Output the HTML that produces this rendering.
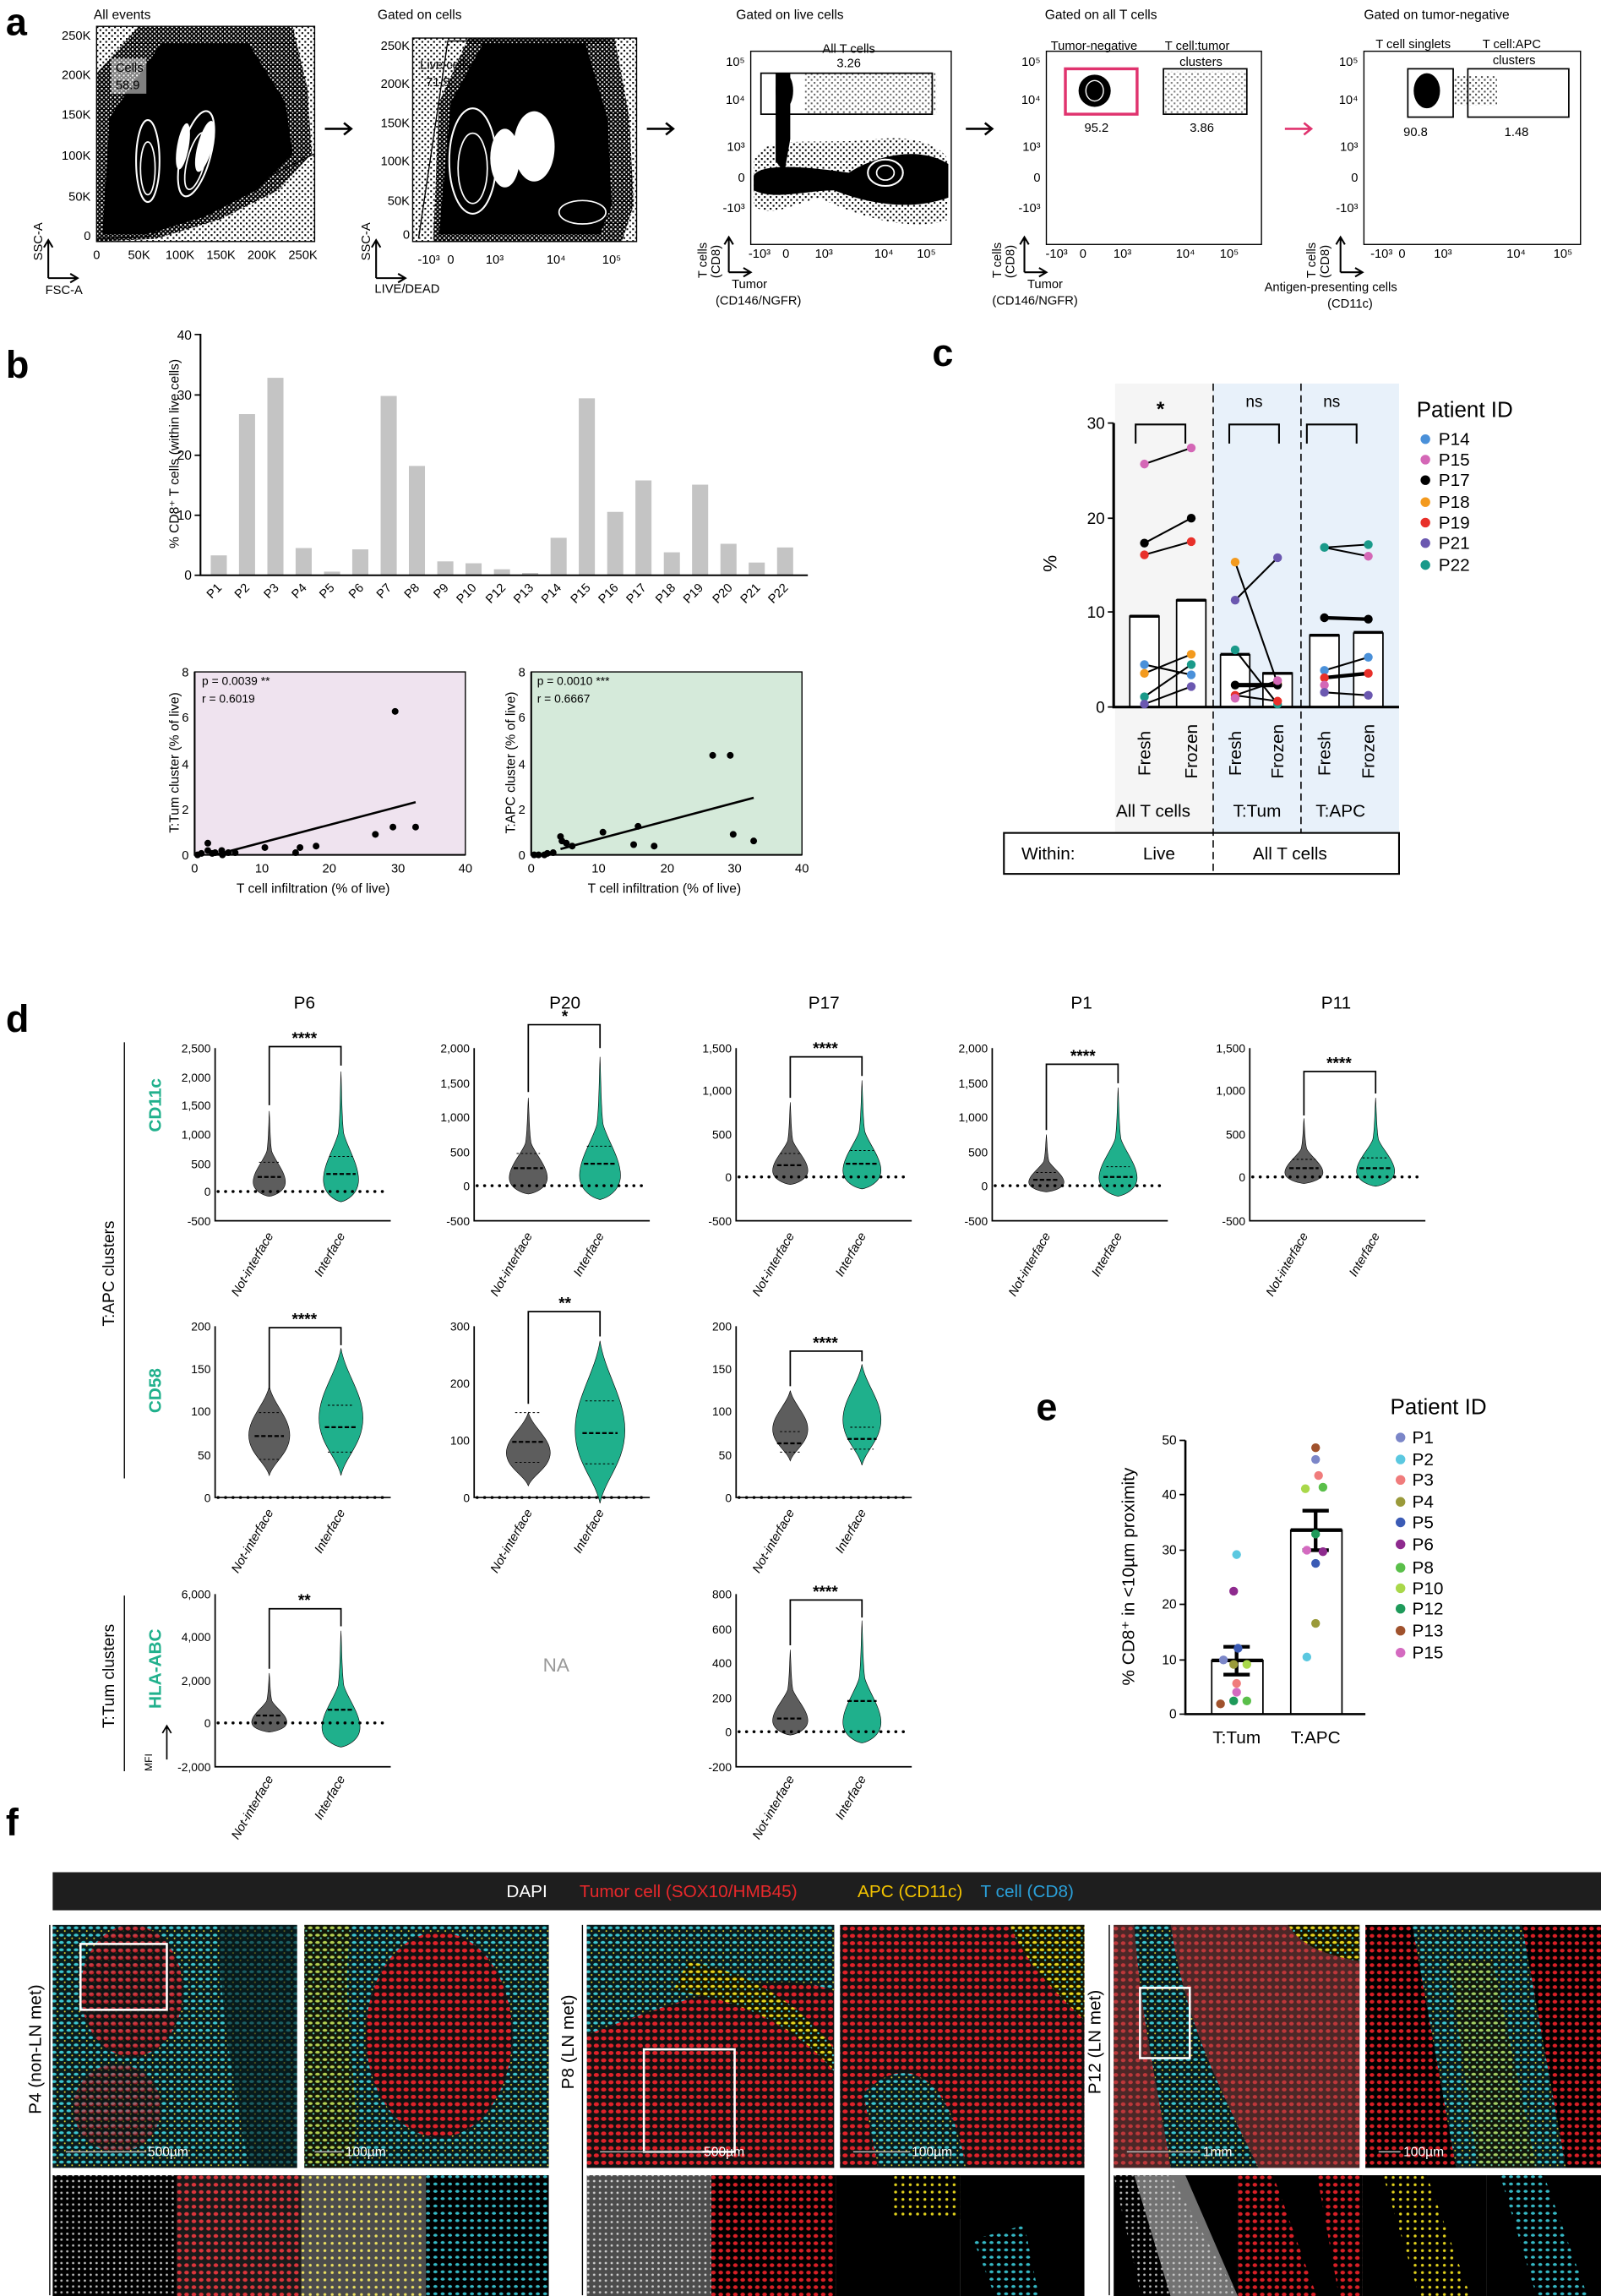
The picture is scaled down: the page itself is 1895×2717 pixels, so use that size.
<!DOCTYPE html>
<html><head><meta charset="utf-8"><style>
html,body{margin:0;padding:0;background:#fff}
svg{display:block}
text{font-family:"Liberation Sans",Arial,sans-serif}
</style></head><body>
<svg width="1895" height="2717" viewBox="0 0 1094 1568.5" preserveAspectRatio="none" xmlns="http://www.w3.org/2000/svg">
<defs>
<path id="v1" vector-effect="non-scaling-stroke" d="M0,-1 C0.05,-0.8 0.05,-0.6 0.15,-0.5 C0.3,-0.4 1,-0.25 1,-0.12 C1,0 0.3,0.05 0,0.06 C-0.3,0.05 -1,0 -1,-0.12 C-1,-0.25 -0.3,-0.4 -0.15,-0.5 C-0.05,-0.6 -0.05,-0.8 0,-1Z"/>
<path id="v2" vector-effect="non-scaling-stroke" d="M0,-1 C0.2,-0.8 1,-0.65 1,-0.45 C1,-0.25 0.2,-0.15 0,0 C-0.2,-0.15 -1,-0.25 -1,-0.45 C-1,-0.65 -0.2,-0.8 0,-1Z"/>
<pattern id="spk" width="4" height="4" patternUnits="userSpaceOnUse"><rect width="4" height="4" fill="#fff"/><rect x="0" y="0" width="1.2" height="1.2" fill="#000"/><rect x="2" y="2" width="1.2" height="1.2" fill="#000"/></pattern>
<pattern id="spk2" width="3" height="3" patternUnits="userSpaceOnUse"><rect width="3" height="3" fill="#000"/><rect x="0" y="0" width="1.2" height="1.2" fill="#fff"/><rect x="1.6" y="1.6" width="0.9" height="0.9" fill="#fff"/></pattern>
<pattern id="pr" width="5" height="5" patternUnits="userSpaceOnUse"><rect width="5" height="5" fill="#111"/><ellipse cx="2.5" cy="2.5" rx="1.8" ry="1.4" fill="#e0222a"/></pattern>
<pattern id="pc" width="5" height="5" patternUnits="userSpaceOnUse"><rect width="5" height="5" fill="#0a1a1c"/><ellipse cx="2" cy="2" rx="1.6" ry="1" fill="#3cc6d0"/><circle cx="4.3" cy="4.2" r="0.6" fill="#d9d12a"/></pattern>
<pattern id="py" width="5" height="5" patternUnits="userSpaceOnUse"><rect width="5" height="5" fill="#141400"/><ellipse cx="2" cy="2" rx="1.6" ry="1" fill="#e6d51e"/><circle cx="4.2" cy="4" r="0.7" fill="#3cc6d0"/></pattern>
<pattern id="pw" width="4" height="4" patternUnits="userSpaceOnUse"><rect width="4" height="4" fill="#000"/><circle cx="2" cy="2" r="0.8" fill="#bbb"/></pattern>
<pattern id="pr2" width="5" height="5" patternUnits="userSpaceOnUse"><rect width="5" height="5" fill="#000"/><ellipse cx="2.5" cy="2.5" rx="1.6" ry="1.3" fill="#d81f26"/></pattern>
<pattern id="py2" width="5" height="5" patternUnits="userSpaceOnUse"><rect width="5" height="5" fill="#000"/><circle cx="2" cy="2.5" r="1" fill="#e3d21c"/></pattern>
<pattern id="pc2" width="5" height="5" patternUnits="userSpaceOnUse"><rect width="5" height="5" fill="#000"/><ellipse cx="2.5" cy="2" rx="1.4" ry="1" fill="#35b9c6"/></pattern>
</defs>

<!-- ============ PANEL A ============ -->
<g font-size="8.5">
<text x="4" y="24" font-size="26" font-weight="bold">a</text>
<!-- plot 1 -->
<text x="64" y="13" font-size="9">All events</text>
<rect x="66" y="18" width="149" height="147" fill="url(#spk)"/>
<path d="M66,165 L66,50 L95,18 L200,18 L210,60 L213,105 L190,130 L150,150 L100,165Z" fill="url(#spk2)"/>
<path d="M70,160 L75,80 L110,30 L170,30 L195,70 L200,105 L175,130 L140,148 L100,160Z" fill="#000"/>
<path d="M215,108 L160,158 L110,163 L66,165 L215,165Z" fill="url(#spk)"/>
<path d="M66,163 L100,162 L215,105" fill="none" stroke="#000" stroke-width="0.8"/>
<ellipse cx="101" cy="110" rx="8" ry="28" fill="none" stroke="#fff" stroke-width="1.2"/>
<ellipse cx="101" cy="115" rx="5" ry="18" fill="none" stroke="#fff" stroke-width="1"/>
<ellipse cx="134" cy="105" rx="10" ry="30" fill="none" stroke="#fff" stroke-width="1.2" transform="rotate(15 134 105)"/>
<ellipse cx="134" cy="110" rx="6" ry="20" fill="none" stroke="#fff" stroke-width="1" transform="rotate(15 134 110)"/>
<ellipse cx="125" cy="100" rx="4" ry="16" fill="#fff" transform="rotate(10 125 100)"/>
<ellipse cx="140" cy="100" rx="5" ry="18" fill="#fff" transform="rotate(15 140 100)"/>
<rect x="66" y="18" width="149" height="147" fill="none" stroke="#000" stroke-width="0.8"/>
<rect x="76" y="40" width="24" height="24" fill="#fff" opacity="0.5"/>
<text x="79" y="49">Cells</text><text x="79" y="61">58.9</text>
<g text-anchor="end"><text x="62" y="27">250K</text><text x="62" y="54">200K</text><text x="62" y="81">150K</text><text x="62" y="109">100K</text><text x="62" y="137">50K</text><text x="62" y="164">0</text></g>
<g text-anchor="middle"><text x="66" y="177">0</text><text x="95" y="177">50K</text><text x="123" y="177">100K</text><text x="151" y="177">150K</text><text x="179" y="177">200K</text><text x="207" y="177">250K</text></g>
<path d="M33,190 L33,165 M30,169 L33,164 L36,169 M33,190 L52,190 M48,187 L53,190 L48,193" fill="none" stroke="#000" stroke-width="1.2"/>
<text x="29" y="178" transform="rotate(-90 29 178)">SSC-A</text>
<text x="31" y="201">FSC-A</text>
<path d="M222,88 L240,88 M235,84 L240,88 L235,92" fill="none" stroke="#000" stroke-width="1.5"/>
<!-- plot 2 -->
<text x="258" y="13" font-size="9">Gated on cells</text>
<rect x="282" y="26" width="153" height="139" fill="url(#spk)"/>
<path d="M296,165 L300,70 L320,26 L420,26 L430,80 L433,140 L425,165Z" fill="url(#spk2)"/>
<path d="M300,160 L308,70 L330,30 L400,30 L415,80 L418,140 L410,160Z" fill="#000"/>
<ellipse cx="323" cy="110" rx="16" ry="36" fill="none" stroke="#fff" stroke-width="1.2"/>
<ellipse cx="323" cy="115" rx="10" ry="24" fill="none" stroke="#fff" stroke-width="1"/>
<ellipse cx="365" cy="100" rx="14" ry="24" fill="#fff"/>
<ellipse cx="345" cy="108" rx="10" ry="20" fill="#fff"/>
<ellipse cx="398" cy="145" rx="16" ry="8" fill="none" stroke="#fff" stroke-width="1"/>
<path d="M286,163 L306,28 L415,28" fill="none" stroke="#000" stroke-width="0.8"/>
<rect x="282" y="26" width="153" height="139" fill="none" stroke="#000" stroke-width="0.8"/>
<text x="287" y="47">Live cells</text><text x="291" y="59">71.5</text>
<g text-anchor="end"><text x="280" y="34">250K</text><text x="280" y="60">200K</text><text x="280" y="87">150K</text><text x="280" y="113">100K</text><text x="280" y="140">50K</text><text x="280" y="163">0</text></g>
<g text-anchor="middle"><text x="293" y="180">-10³</text><text x="308" y="180">0</text><text x="338" y="180">10³</text><text x="380" y="180">10⁴</text><text x="418" y="180">10⁵</text></g>
<path d="M257,190 L257,165 M254,169 L257,164 L260,169 M257,190 L276,190 M272,187 L277,190 L272,193" fill="none" stroke="#000" stroke-width="1.2"/>
<text x="253" y="178" transform="rotate(-90 253 178)">SSC-A</text>
<text x="256" y="200">LIVE/DEAD</text>
<path d="M442,88 L460,88 M455,84 L460,88 L455,92" fill="none" stroke="#000" stroke-width="1.5"/>
<!-- plot 3 -->
<text x="503" y="13" font-size="9">Gated on live cells</text>
<rect x="513" y="35" width="137" height="132" fill="#fff" stroke="#000" stroke-width="0.8"/>
<path d="M515,110 C520,90 560,100 600,95 C625,92 645,100 648,110 L648,150 C620,160 580,145 560,135 C540,140 525,150 515,140Z" fill="url(#spk)"/>
<path d="M530,50 L540,50 L540,95 L536,118 L530,110 Z" fill="#000"/>
<ellipse cx="536" cy="62" rx="6" ry="12" fill="#000"/>
<path d="M515,120 C520,110 560,115 580,118 C600,105 630,100 648,112 L648,135 C620,145 590,138 570,130 C550,130 530,137 515,130Z" fill="#000"/>
<rect x="550" y="50" width="90" height="28" fill="url(#spk)" opacity="0.6"/>
<ellipse cx="605" cy="118" rx="12" ry="9" fill="none" stroke="#fff" stroke-width="1.2"/>
<ellipse cx="605" cy="118" rx="6" ry="5" fill="none" stroke="#fff" stroke-width="1"/>
<rect x="520" y="50" width="117" height="28" fill="none" stroke="#000" stroke-width="1"/>
<text x="580" y="36" text-anchor="middle">All T cells</text><text x="580" y="46" text-anchor="middle">3.26</text>
<g text-anchor="end"><text x="509" y="45">10⁵</text><text x="509" y="71">10⁴</text><text x="509" y="103">10³</text><text x="509" y="124">0</text><text x="509" y="145">-10³</text></g>
<g text-anchor="middle"><text x="519" y="176">-10³</text><text x="537" y="176">0</text><text x="563" y="176">10³</text><text x="604" y="176">10⁴</text><text x="633" y="176">10⁵</text></g>
<path d="M498,186 L498,163 M495,167 L498,162 L501,167 M498,186 L512,186 M508,183 L513,186 L508,189" fill="none" stroke="#000" stroke-width="1.2"/>
<text x="483" y="190" transform="rotate(-90 483 190)">T cells</text><text x="492" y="190" transform="rotate(-90 492 190)">(CD8)</text>
<text x="500" y="197">Tumor</text><text x="489" y="208">(CD146/NGFR)</text>
<path d="M660,88 L678,88 M673,84 L678,88 L673,92" fill="none" stroke="#000" stroke-width="1.5"/>
<!-- plot 4 -->
<text x="714" y="13" font-size="9">Gated on all T cells</text>
<rect x="715" y="35" width="147" height="132" fill="#fff" stroke="#000" stroke-width="0.8"/>
<ellipse cx="748" cy="62" rx="11" ry="11" fill="#000"/>
<ellipse cx="748" cy="62" rx="6" ry="7" fill="none" stroke="#fff" stroke-width="0.8"/>
<rect x="795" y="49" width="57" height="29" fill="url(#spk)" opacity="0.5"/>
<rect x="728" y="47" width="49" height="31" fill="none" stroke="#e0336e" stroke-width="2"/>
<rect x="795" y="47" width="57" height="31" fill="none" stroke="#000" stroke-width="1"/>
<text x="718" y="34">Tumor-negative</text><text x="796" y="34">T cell:tumor</text><text x="806" y="45">clusters</text>
<text x="741" y="90">95.2</text><text x="813" y="90">3.86</text>
<g text-anchor="end"><text x="711" y="45">10⁵</text><text x="711" y="71">10⁴</text><text x="711" y="103">10³</text><text x="711" y="124">0</text><text x="711" y="145">-10³</text></g>
<g text-anchor="middle"><text x="722" y="176">-10³</text><text x="740" y="176">0</text><text x="767" y="176">10³</text><text x="810" y="176">10⁴</text><text x="840" y="176">10⁵</text></g>
<path d="M700,186 L700,163 M697,167 L700,162 L703,167 M700,186 L714,186 M710,183 L715,186 L710,189" fill="none" stroke="#000" stroke-width="1.2"/>
<text x="684" y="190" transform="rotate(-90 684 190)">T cells</text><text x="693" y="190" transform="rotate(-90 693 190)">(CD8)</text>
<text x="702" y="197">Tumor</text><text x="678" y="208">(CD146/NGFR)</text>
<path d="M878,88 L896,88 M891,84 L896,88 L891,92" fill="none" stroke="#e0336e" stroke-width="1.5"/>
<!-- plot 5 -->
<text x="932" y="13" font-size="9">Gated on tumor-negative</text>
<rect x="932" y="35" width="148" height="132" fill="#fff" stroke="#000" stroke-width="0.8"/>
<ellipse cx="975" cy="62" rx="9" ry="12" fill="#000"/>
<rect x="993" y="52" width="30" height="20" fill="url(#spk)" opacity="0.7"/>
<rect x="962" y="47" width="31" height="33" fill="none" stroke="#000" stroke-width="1"/>
<rect x="1003" y="47" width="69" height="33" fill="none" stroke="#000" stroke-width="1"/>
<text x="940" y="33">T cell singlets</text><text x="1013" y="33">T cell:APC</text><text x="1020" y="44">clusters</text>
<text x="959" y="93">90.8</text><text x="1028" y="93">1.48</text>
<g text-anchor="end"><text x="928" y="45">10⁵</text><text x="928" y="71">10⁴</text><text x="928" y="103">10³</text><text x="928" y="124">0</text><text x="928" y="145">-10³</text></g>
<g text-anchor="middle"><text x="944" y="176">-10³</text><text x="958" y="176">0</text><text x="986" y="176">10³</text><text x="1036" y="176">10⁴</text><text x="1068" y="176">10⁵</text></g>
<path d="M916,186 L916,163 M913,167 L916,162 L919,167 M916,186 L930,186 M926,183 L931,186 L926,189" fill="none" stroke="#000" stroke-width="1.2"/>
<text x="899" y="190" transform="rotate(-90 899 190)">T cells</text><text x="908" y="190" transform="rotate(-90 908 190)">(CD8)</text>
<text x="864" y="199">Antigen-presenting cells</text><text x="907" y="210">(CD11c)</text>
</g>

<!-- ============ PANEL B ============ -->
<g font-size="9">
<text x="4" y="258" font-size="26" font-weight="bold">b</text>
<g fill="#c4c4c4">
<rect x="144" y="379.4" width="11" height="13.6"/>
<rect x="163.3" y="282.9" width="11" height="110.1"/>
<rect x="182.7" y="258.1" width="11" height="134.9"/>
<rect x="202" y="374.4" width="11" height="18.6"/>
<rect x="221.4" y="390.5" width="11" height="2.5"/>
<rect x="240.7" y="375.3" width="11" height="17.7"/>
<rect x="260.1" y="270.5" width="11" height="122.5"/>
<rect x="279.4" y="318.3" width="11" height="74.7"/>
<rect x="298.8" y="383.5" width="11" height="9.5"/>
<rect x="318.1" y="384.8" width="11" height="8.2"/>
<rect x="337.5" y="388.9" width="11" height="4.1"/>
<rect x="356.8" y="391.4" width="11" height="1.6"/>
<rect x="376.2" y="367.4" width="11" height="25.6"/>
<rect x="395.5" y="272.1" width="11" height="120.9"/>
<rect x="414.9" y="349.7" width="11" height="43.3"/>
<rect x="434.2" y="328.2" width="11" height="64.8"/>
<rect x="453.6" y="377.3" width="11" height="15.7"/>
<rect x="472.9" y="331.1" width="11" height="61.9"/>
<rect x="492.3" y="371.5" width="11" height="21.5"/>
<rect x="511.6" y="384.3" width="11" height="8.7"/>
<rect x="531" y="374" width="11" height="19"/>
</g>
<path d="M137,228 L137,393 L552,393" fill="none" stroke="#000" stroke-width="1.2"/>
<g stroke="#000" stroke-width="1"><path d="M133,228.5H137M133,269.8H137M133,311H137M133,352H137M133,393H137"/></g>
<g text-anchor="end"><text x="131" y="232">40</text><text x="131" y="273">30</text><text x="131" y="314">20</text><text x="131" y="355">10</text><text x="131" y="396">0</text></g>
<text x="122" y="310" text-anchor="middle" transform="rotate(-90 122 310)">% CD8⁺ T cells (within live cells)</text>
<g text-anchor="end" font-size="8.5">
<text transform="translate(152,402) rotate(-45)">P1</text><text transform="translate(171,402) rotate(-45)">P2</text><text transform="translate(191,402) rotate(-45)">P3</text><text transform="translate(210,402) rotate(-45)">P4</text><text transform="translate(229,402) rotate(-45)">P5</text><text transform="translate(249,402) rotate(-45)">P6</text><text transform="translate(268,402) rotate(-45)">P7</text><text transform="translate(287,402) rotate(-45)">P8</text><text transform="translate(307,402) rotate(-45)">P9</text><text transform="translate(326,402) rotate(-45)">P10</text><text transform="translate(346,402) rotate(-45)">P12</text><text transform="translate(365,402) rotate(-45)">P13</text><text transform="translate(384,402) rotate(-45)">P14</text><text transform="translate(404,402) rotate(-45)">P15</text><text transform="translate(423,402) rotate(-45)">P16</text><text transform="translate(442,402) rotate(-45)">P17</text><text transform="translate(462,402) rotate(-45)">P18</text><text transform="translate(481,402) rotate(-45)">P19</text><text transform="translate(501,402) rotate(-45)">P20</text><text transform="translate(520,402) rotate(-45)">P21</text><text transform="translate(539,402) rotate(-45)">P22</text>
</g>
<!-- scatter pink -->
<rect x="133" y="459" width="185" height="125" fill="#efe3ef" stroke="#000" stroke-width="0.8"/>
<path d="M133,459 L133,584 L318,584" fill="none" stroke="#000" stroke-width="1.2"/>
<g text-anchor="end" font-size="8.5"><text x="129" y="462">8</text><text x="129" y="493">6</text><text x="129" y="525">4</text><text x="129" y="556">2</text><text x="129" y="587">0</text></g>
<g text-anchor="middle" font-size="8.5"><text x="133" y="596">0</text><text x="179" y="596">10</text><text x="225" y="596">20</text><text x="272" y="596">30</text><text x="318" y="596">40</text></g>
<text x="214" y="610" text-anchor="middle">T cell infiltration (% of live)</text>
<text x="122" y="521" text-anchor="middle" transform="rotate(-90 122 521)">T:Tum cluster (% of live)</text>
<text x="138" y="468" font-size="8">p = 0.0039 **</text><text x="138" y="480" font-size="8">r = 0.6019</text>
<line x1="147" y1="584" x2="284" y2="548" stroke="#000" stroke-width="1.5"/>
<g fill="#000"><circle cx="137.6" cy="583" r="2.3"/><circle cx="142" cy="576" r="2.3"/><circle cx="142" cy="581" r="2.3"/><circle cx="147" cy="582.5" r="2.3"/><circle cx="151.5" cy="581" r="2.3"/><circle cx="152" cy="584" r="2.3"/><circle cx="156" cy="582.5" r="2.3"/><circle cx="160.7" cy="582.5" r="2.3"/><circle cx="181" cy="579" r="2.3"/><circle cx="202" cy="582.5" r="2.3"/><circle cx="205" cy="579" r="2.3"/><circle cx="216" cy="578" r="2.3"/><circle cx="256.5" cy="570" r="2.3"/><circle cx="268.5" cy="565" r="2.3"/><circle cx="270" cy="486" r="2.3"/><circle cx="284" cy="565" r="2.3"/><circle cx="135" cy="584" r="2.3"/><circle cx="145" cy="583" r="2.3"/></g>
<!-- scatter green -->
<rect x="363" y="459" width="185" height="125" fill="#d5eada" stroke="#000" stroke-width="0.8"/>
<path d="M363,459 L363,584 L548,584" fill="none" stroke="#000" stroke-width="1.2"/>
<g text-anchor="end" font-size="8.5"><text x="359" y="462">8</text><text x="359" y="493">6</text><text x="359" y="525">4</text><text x="359" y="556">2</text><text x="359" y="587">0</text></g>
<g text-anchor="middle" font-size="8.5"><text x="363" y="596">0</text><text x="409" y="596">10</text><text x="456" y="596">20</text><text x="502" y="596">30</text><text x="548" y="596">40</text></g>
<text x="454" y="610" text-anchor="middle">T cell infiltration (% of live)</text>
<text x="352" y="521" text-anchor="middle" transform="rotate(-90 352 521)">T:APC cluster (% of live)</text>
<text x="367" y="468" font-size="8">p = 0.0010 ***</text><text x="367" y="480" font-size="8">r = 0.6667</text>
<line x1="383" y1="580" x2="515" y2="545" stroke="#000" stroke-width="1.5"/>
<g fill="#000"><circle cx="365" cy="584" r="2.3"/><circle cx="368" cy="584" r="2.3"/><circle cx="372" cy="584" r="2.3"/><circle cx="374" cy="583" r="2.3"/><circle cx="378" cy="582.5" r="2.3"/><circle cx="383" cy="571.5" r="2.3"/><circle cx="384" cy="574.5" r="2.3"/><circle cx="387" cy="576" r="2.3"/><circle cx="391" cy="578" r="2.3"/><circle cx="412" cy="568.5" r="2.3"/><circle cx="433" cy="577" r="2.3"/><circle cx="436" cy="564.5" r="2.3"/><circle cx="447" cy="578" r="2.3"/><circle cx="487" cy="516" r="2.3"/><circle cx="499" cy="516" r="2.3"/><circle cx="501" cy="570" r="2.3"/><circle cx="515" cy="574.5" r="2.3"/></g>
</g>

<!-- ============ PANEL C ============ -->
<g font-size="10">
<text x="637" y="250" font-size="26" font-weight="bold">c</text>
<rect x="762" y="262" width="67" height="307" fill="#f5f5f5"/>
<rect x="829" y="262" width="127" height="307" fill="#e8f1fa"/>
<line x1="829" y1="262" x2="829" y2="598" stroke="#000" stroke-dasharray="5,3" stroke-width="0.9"/>
<line x1="889" y1="262" x2="889" y2="569" stroke="#000" stroke-dasharray="5,3" stroke-width="0.9"/>
<g fill="#fff" stroke="#000" stroke-width="1"><rect x="772" y="420.9" width="20" height="62.1"/><rect x="804" y="409.9" width="20" height="73.1"/><rect x="834" y="447.4" width="20" height="35.6"/><rect x="863" y="459.7" width="20" height="23.3"/><rect x="895" y="433.8" width="20" height="49.2"/><rect x="925" y="432.5" width="20" height="50.5"/></g>
<g stroke="#000" stroke-width="2"><path d="M772,421H792M804,410H824M834,447H854M863,460H883M895,434H915M925,432H945"/></g>
<path d="M761,289 L761,483 L956,483" fill="none" stroke="#000" stroke-width="1.8"/>
<g stroke="#000"><path d="M757,289H761M757,354H761M757,418H761M757,483H761"/></g>
<g text-anchor="end" font-size="11"><text x="755" y="293">30</text><text x="755" y="358">20</text><text x="755" y="422">10</text><text x="755" y="487">0</text></g>
<text x="722" y="385" text-anchor="middle" font-size="13" transform="rotate(-90 722 385)">%</text>
<g fill="none" stroke="#000" stroke-width="1.2"><path d="M776,303V290H810V303M840,303V290H874V303M893,303V290H927V303"/></g>
<text x="793" y="284" text-anchor="middle" font-size="14" font-weight="bold">*</text>
<text x="857" y="278" text-anchor="middle" font-size="11">ns</text><text x="910" y="278" text-anchor="middle" font-size="11">ns</text>
<g stroke="#000" stroke-width="1.2">
<line x1="782" y1="317" x2="814" y2="306"/><line x1="782" y1="371" x2="814" y2="354"/><line x1="782" y1="379" x2="814" y2="370"/>
<line x1="782" y1="454" x2="814" y2="461"/><line x1="782" y1="460" x2="814" y2="447"/><line x1="782" y1="476" x2="814" y2="454"/><line x1="782" y1="481" x2="814" y2="469"/>
<line x1="844" y1="384" x2="873" y2="467"/><line x1="844" y1="410" x2="873" y2="381"/><line x1="844" y1="444" x2="873" y2="481"/><line x1="844" y1="468" x2="873" y2="468" stroke-width="3"/><line x1="844" y1="475" x2="873" y2="479"/><line x1="844" y1="475" x2="873" y2="465"/>
<line x1="905" y1="374" x2="935" y2="372"/><line x1="905" y1="422" x2="935" y2="423" stroke-width="2.5"/><line x1="905" y1="458" x2="935" y2="449"/><line x1="905" y1="463" x2="935" y2="460" stroke-width="2.5"/><line x1="905" y1="473" x2="935" y2="475"/><line x1="905" y1="374" x2="935" y2="380"/>
</g>
<g>
<circle cx="782" cy="317" r="3" fill="#d467b6"/><circle cx="814" cy="306" r="3" fill="#d467b6"/>
<circle cx="782" cy="371" r="3" fill="#000"/><circle cx="814" cy="354" r="3" fill="#000"/>
<circle cx="782" cy="379" r="3" fill="#e8302a"/><circle cx="814" cy="370" r="3" fill="#e8302a"/>
<circle cx="782" cy="454" r="3" fill="#4a90d9"/><circle cx="814" cy="461" r="3" fill="#4a90d9"/>
<circle cx="782" cy="460" r="3" fill="#f39a1e"/><circle cx="814" cy="447" r="3" fill="#f39a1e"/>
<circle cx="782" cy="476" r="3" fill="#1a9a8a"/><circle cx="814" cy="454" r="3" fill="#1a9a8a"/>
<circle cx="782" cy="481" r="3" fill="#6b58b0"/><circle cx="814" cy="469" r="3" fill="#6b58b0"/>
<circle cx="844" cy="384" r="3" fill="#f39a1e"/><circle cx="873" cy="467" r="3" fill="#f39a1e"/>
<circle cx="844" cy="410" r="3" fill="#6b58b0"/><circle cx="873" cy="381" r="3" fill="#6b58b0"/>
<circle cx="844" cy="444" r="3" fill="#1a9a8a"/><circle cx="873" cy="481" r="3" fill="#1a9a8a"/>
<circle cx="844" cy="468" r="3" fill="#000"/><circle cx="873" cy="468" r="3" fill="#000"/>
<circle cx="844" cy="475" r="3" fill="#e8302a"/><circle cx="873" cy="479" r="3" fill="#e8302a"/>
<circle cx="844" cy="477" r="3" fill="#d467b6"/><circle cx="873" cy="465" r="3" fill="#d467b6"/>
<circle cx="905" cy="374" r="3" fill="#1a9a8a"/><circle cx="935" cy="372" r="3" fill="#1a9a8a"/>
<circle cx="935" cy="380" r="3" fill="#d467b6"/>
<circle cx="905" cy="422" r="3" fill="#000"/><circle cx="935" cy="423" r="3" fill="#000"/>
<circle cx="905" cy="458" r="3" fill="#4a90d9"/><circle cx="935" cy="449" r="3" fill="#4a90d9"/>
<circle cx="905" cy="463" r="3" fill="#e8302a"/><circle cx="935" cy="460" r="3" fill="#e8302a"/>
<circle cx="905" cy="468" r="3" fill="#d467b6"/>
<circle cx="905" cy="473" r="3" fill="#6b58b0"/><circle cx="935" cy="475" r="3" fill="#6b58b0"/>
</g>
<g font-size="12"><text transform="translate(786,530) rotate(-90)">Fresh</text><text transform="translate(818,532) rotate(-90)">Frozen</text><text transform="translate(848,530) rotate(-90)">Fresh</text><text transform="translate(877,532) rotate(-90)">Frozen</text><text transform="translate(909,530) rotate(-90)">Fresh</text><text transform="translate(939,532) rotate(-90)">Frozen</text></g>
<g font-size="12" text-anchor="middle"><text x="788" y="558">All T cells</text><text x="859" y="558">T:Tum</text><text x="916" y="558">T:APC</text></g>
<rect x="686" y="569" width="270" height="28" fill="none" stroke="#000" stroke-width="1.2"/>
<text x="698" y="587" font-size="12">Within:</text><text x="781" y="587" font-size="12">Live</text><text x="856" y="587" font-size="12">All T cells</text>
<text x="968" y="285" font-size="15">Patient ID</text>
<g font-size="12"><circle cx="974" cy="300" r="3.3" fill="#4a90d9"/><text x="983" y="304">P14</text>
<circle cx="974" cy="314" r="3.3" fill="#d467b6"/><text x="983" y="318">P15</text>
<circle cx="974" cy="328" r="3.3" fill="#000"/><text x="983" y="332">P17</text>
<circle cx="974" cy="343" r="3.3" fill="#f39a1e"/><text x="983" y="347">P18</text>
<circle cx="974" cy="357" r="3.3" fill="#e8302a"/><text x="983" y="361">P19</text>
<circle cx="974" cy="371" r="3.3" fill="#6b58b0"/><text x="983" y="375">P21</text>
<circle cx="974" cy="386" r="3.3" fill="#1a9a8a"/><text x="983" y="390">P22</text></g>
</g>

<!-- ============ PANEL D ============ -->
<g font-size="8">
<text x="4" y="705" font-size="26" font-weight="bold">d</text>
<g font-size="12" text-anchor="middle"><text x="208" y="689">P6</text><text x="386" y="689">P20</text><text x="563" y="689">P17</text><text x="739" y="689">P1</text><text x="913" y="689">P11</text></g>
<line x1="85" y1="712" x2="85" y2="1010" stroke="#000" stroke-width="0.8"/>
<line x1="85" y1="1090" x2="85" y2="1210" stroke="#000" stroke-width="0.8"/>
<text x="78" y="870" text-anchor="middle" font-size="11" transform="rotate(-90 78 870)">T:APC clusters</text>
<text x="78" y="1145" text-anchor="middle" font-size="11" transform="rotate(-90 78 1145)">T:Tum clusters</text>
<g fill="#20b08c" font-weight="bold" font-size="12" text-anchor="middle"><text transform="translate(110,755) rotate(-90)">CD11c</text><text transform="translate(110,950) rotate(-90)">CD58</text><text transform="translate(110,1140) rotate(-90)">HLA-ABC</text></g>
<text x="104" y="1210" font-size="7" transform="rotate(-90 104 1210)">MFI</text>
<path d="M114,1202 L114,1180 M111,1184 L114,1179 L117,1184" fill="none" stroke="#000"/>
<text x="380" y="1142" fill="#999" font-size="13" text-anchor="middle">NA</text>

<g fill="none" stroke="#000" stroke-width="1"><path d="M147,716V834H267M324,716V834H444M503,716V834H623M678,716V834H798M854,716V834H974"/></g>
<g text-anchor="end">
<text x="144" y="719">2,500</text><text x="144" y="739">2,000</text><text x="144" y="758">1,500</text><text x="144" y="778">1,000</text><text x="144" y="798">500</text><text x="144" y="817">0</text><text x="144" y="837">-500</text>
<text x="321" y="719">2,000</text><text x="321" y="743">1,500</text><text x="321" y="766">1,000</text><text x="321" y="790">500</text><text x="321" y="813">0</text><text x="321" y="837">-500</text>
<text x="500" y="719">1,500</text><text x="500" y="748">1,000</text><text x="500" y="778">500</text><text x="500" y="807">0</text><text x="500" y="837">-500</text>
<text x="675" y="719">2,000</text><text x="675" y="743">1,500</text><text x="675" y="766">1,000</text><text x="675" y="790">500</text><text x="675" y="813">0</text><text x="675" y="837">-500</text>
<text x="851" y="719">1,500</text><text x="851" y="748">1,000</text><text x="851" y="778">500</text><text x="851" y="807">0</text><text x="851" y="837">-500</text>
</g>
<g fill="none" stroke="#000" stroke-width="1"><path d="M147,906V1023H267M324,906V1023H444M503,906V1023H623"/></g>
<g text-anchor="end">
<text x="144" y="909">200</text><text x="144" y="938">150</text><text x="144" y="967">100</text><text x="144" y="997">50</text><text x="144" y="1026">0</text>
<text x="321" y="909">300</text><text x="321" y="948">200</text><text x="321" y="987">100</text><text x="321" y="1026">0</text>
<text x="500" y="909">200</text><text x="500" y="938">150</text><text x="500" y="967">100</text><text x="500" y="997">50</text><text x="500" y="1026">0</text>
</g>
<g fill="none" stroke="#000" stroke-width="1"><path d="M147,1089V1207H267M503,1089V1207H623"/></g>
<g text-anchor="end">
<text x="144" y="1092">6,000</text><text x="144" y="1121">4,000</text><text x="144" y="1151">2,000</text><text x="144" y="1180">0</text><text x="144" y="1210">-2,000</text>
<text x="500" y="1092">800</text><text x="500" y="1116">600</text><text x="500" y="1139">400</text><text x="500" y="1163">200</text><text x="500" y="1186">0</text><text x="500" y="1210">-200</text>
</g>
<!-- violins -->
<g stroke="#000" stroke-width="0.6">
<g fill="#5d5d5d">
<use href="#v1" transform="translate(184,814) scale(11,55)"/>
<use href="#v1" transform="translate(361,812) scale(13,62)"/>
<use href="#v1" transform="translate(540,806) scale(12,53)"/>
<use href="#v1" transform="translate(715,812) scale(12,37)"/>
<use href="#v1" transform="translate(891,806) scale(13,42)"/>
<use href="#v2" transform="translate(184,1008) scale(14,61)"/>
<use href="#v2" transform="translate(361,1015) scale(15,50)"/>
<use href="#v2" transform="translate(540,998) scale(12,48)"/>
<use href="#v1" transform="translate(184,1181) scale(12,38)"/>
<use href="#v1" transform="translate(540,1182) scale(12,55)"/>
</g>
<g fill="#1fb08c">
<use href="#v1" transform="translate(233,816) scale(12,84)"/>
<use href="#v1" transform="translate(410,814) scale(14,92)"/>
<use href="#v1" transform="translate(589,808) scale(13,70)"/>
<use href="#v1" transform="translate(764,813) scale(13,70)"/>
<use href="#v1" transform="translate(940,807) scale(13,57)"/>
<use href="#v2" transform="translate(233,1008) scale(15,87)"/>
<use href="#v2" transform="translate(410,1027) scale(17,111)"/>
<use href="#v2" transform="translate(589,1001) scale(13,69)"/>
<use href="#v1" transform="translate(233,1189) scale(13,75)"/>
<use href="#v1" transform="translate(589,1186) scale(13,79)"/>
</g>
</g>
<g stroke="#000" stroke-width="1.3" stroke-dasharray="3,1.5">
<path d="M176,804H192M223,802H243M351,798H371M399,795H421M531,796H549M578,795H600M706,806H724M754,804H774M881,798H901M929,798H951"/>
<path d="M174,981H194M222,975H244M350,985H372M398,979H422M531,986H549M579,983H599M175,1172H193M224,1168H242M531,1174H549M579,1162H599"/>
</g>
<g stroke="#000" stroke-width="0.6" stroke-dasharray="1.5,1.5">
<path d="M177,794H191M225,790H241M353,788H369M401,783H419M533,788H547M581,786H597M708,801H722M756,797H772M883,792H899M931,791H949"/>
<path d="M177,965H191M224,960H242M352,999H370M400,1000H420M533,978H547M581,975H597M177,997H191M224,992H242M352,965H370M400,957H420M533,992H547M581,990H597"/>
</g>
<g stroke="#000" stroke-width="2" stroke-dasharray="0.1,5" stroke-linecap="round">
<path d="M149,814H265M326,810H442M505,804H621M680,810H796M856,804H972M149,1023H265M326,1023H442M505,1023H621M149,1177H265M505,1183H621"/>
</g>
<g fill="none" stroke="#000" stroke-width="1"><path d="M184,755V715H233V728M361,746V700H410V716M540,750V722H589V735M715,772V727H764V740M891,762V732H940V747M184,949V907H233V919M361,959V896H410V913M540,947V923H589V930M184,1140V1099H233V1111M540,1124V1093H589V1105"/></g>
<g text-anchor="middle" font-size="11" font-weight="bold"><text x="208" y="713">****</text><text x="386" y="698">*</text><text x="564" y="720">****</text><text x="740" y="725">****</text><text x="915" y="730">****</text><text x="208" y="905">****</text><text x="386" y="894">**</text><text x="564" y="921">****</text><text x="208" y="1097">**</text><text x="564" y="1091">****</text></g>
<g font-size="8.5" text-anchor="end" font-style="italic">
<text transform="translate(187,844) rotate(-60)">Not-interface</text><text transform="translate(236,844) rotate(-60)">Interface</text>
<text transform="translate(364,844) rotate(-60)">Not-interface</text><text transform="translate(413,844) rotate(-60)">Interface</text>
<text transform="translate(543,844) rotate(-60)">Not-interface</text><text transform="translate(592,844) rotate(-60)">Interface</text>
<text transform="translate(718,844) rotate(-60)">Not-interface</text><text transform="translate(767,844) rotate(-60)">Interface</text>
<text transform="translate(894,844) rotate(-60)">Not-interface</text><text transform="translate(943,844) rotate(-60)">Interface</text>
<text transform="translate(187,1033) rotate(-60)">Not-interface</text><text transform="translate(236,1033) rotate(-60)">Interface</text>
<text transform="translate(364,1033) rotate(-60)">Not-interface</text><text transform="translate(413,1033) rotate(-60)">Interface</text>
<text transform="translate(543,1033) rotate(-60)">Not-interface</text><text transform="translate(592,1033) rotate(-60)">Interface</text>
<text transform="translate(187,1215) rotate(-60)">Not-interface</text><text transform="translate(236,1215) rotate(-60)">Interface</text>
<text transform="translate(543,1215) rotate(-60)">Not-interface</text><text transform="translate(592,1215) rotate(-60)">Interface</text>
</g>
</g>

<!-- ============ PANEL E ============ -->
<g font-size="10">
<text x="708" y="970" font-size="26" font-weight="bold">e</text>
<rect x="828" y="1134.3" width="35" height="36.7" fill="#fff" stroke="#000"/>
<rect x="882" y="1045.3" width="35" height="125.7" fill="#fff" stroke="#000"/>
<path d="M810,984V1171H933" fill="none" stroke="#000" stroke-width="1.5"/>
<g stroke="#000"><path d="M806,984H810M806,1021H810M806,1059H810M806,1096H810M806,1134H810M806,1171H810"/></g>
<g text-anchor="end" font-size="9"><text x="804" y="987">50</text><text x="804" y="1024">40</text><text x="804" y="1062">30</text><text x="804" y="1099">20</text><text x="804" y="1137">10</text><text x="804" y="1174">0</text></g>
<text x="775" y="1077" text-anchor="middle" font-size="12" transform="rotate(-90 775 1077)">% CD8⁺ in &lt;10µm proximity</text>
<g stroke="#000" stroke-width="2.5"><path d="M845,1125V1144M836,1125H854M836,1144H854M899,1032V1059M890,1032H908M890,1059H908"/><path d="M828,1134.3H863M882,1045.3H917"/></g>
<g>
<circle cx="845" cy="1062" r="3" fill="#5bc8e0"/><circle cx="843" cy="1087" r="3" fill="#8e2a8e"/><circle cx="846" cy="1126" r="3" fill="#3b5bb5"/><circle cx="836" cy="1134" r="3" fill="#7b86c8"/><circle cx="852" cy="1137" r="3" fill="#a9d84a"/><circle cx="843" cy="1137" r="3" fill="#9a9a3a"/><circle cx="845" cy="1150" r="3" fill="#f07c7c"/><circle cx="845" cy="1156" r="3" fill="#d46ac0"/><circle cx="852" cy="1162" r="3" fill="#5abf4a"/><circle cx="843" cy="1162" r="3" fill="#1e9a5a"/><circle cx="834" cy="1164" r="3" fill="#a0522d"/>
<circle cx="899" cy="989" r="3" fill="#a0522d"/><circle cx="899" cy="997" r="3" fill="#7b86c8"/><circle cx="901" cy="1008" r="3" fill="#f07c7c"/><circle cx="892" cy="1017" r="3" fill="#a9d84a"/><circle cx="904" cy="1016" r="3" fill="#5abf4a"/><circle cx="899" cy="1048" r="3" fill="#1e9a5a"/><circle cx="904" cy="1060" r="3" fill="#8e2a8e"/><circle cx="893" cy="1059" r="3" fill="#d46ac0"/><circle cx="899" cy="1068" r="3" fill="#3b5bb5"/><circle cx="899" cy="1109" r="3" fill="#9a9a3a"/><circle cx="893" cy="1132" r="3" fill="#5bc8e0"/>
</g>
<g text-anchor="middle" font-size="12"><text x="845" y="1191">T:Tum</text><text x="899" y="1191">T:APC</text></g>
<text x="950" y="966" font-size="15">Patient ID</text>
<g font-size="12">
<circle cx="957" cy="982" r="3.3" fill="#7b86c8"/><text x="965" y="986">P1</text>
<circle cx="957" cy="997" r="3.3" fill="#5bc8e0"/><text x="965" y="1001">P2</text>
<circle cx="957" cy="1011" r="3.3" fill="#f07c7c"/><text x="965" y="1015">P3</text>
<circle cx="957" cy="1026" r="3.3" fill="#9a9a3a"/><text x="965" y="1030">P4</text>
<circle cx="957" cy="1040" r="3.3" fill="#3b5bb5"/><text x="965" y="1044">P5</text>
<circle cx="957" cy="1055" r="3.3" fill="#8e2a8e"/><text x="965" y="1059">P6</text>
<circle cx="957" cy="1071" r="3.3" fill="#5abf4a"/><text x="965" y="1075">P8</text>
<circle cx="957" cy="1085" r="3.3" fill="#a9d84a"/><text x="965" y="1089">P10</text>
<circle cx="957" cy="1099" r="3.3" fill="#1e9a5a"/><text x="965" y="1103">P12</text>
<circle cx="957" cy="1114" r="3.3" fill="#a0522d"/><text x="965" y="1118">P13</text>
<circle cx="957" cy="1129" r="3.3" fill="#d46ac0"/><text x="965" y="1133">P15</text>
</g>
</g>

<!-- ============ PANEL F ============ -->
<text x="4" y="1254" font-size="26" font-weight="bold">f</text>
<rect x="36" y="1279" width="1058" height="26" fill="#1e1e1e"/>
<g font-size="12"><text x="346" y="1296" fill="#fff">DAPI</text><text x="396" y="1296" fill="#e8282b">Tumor cell (SOX10/HMB45)</text><text x="586" y="1296" fill="#f2c200">APC (CD11c)</text><text x="670" y="1296" fill="#2a9fd8">T cell (CD8)</text></g>
<g font-size="12" text-anchor="middle"><text transform="translate(28,1400) rotate(-90)">P4 (non-LN met)</text><text transform="translate(392,1395) rotate(-90)">P8 (LN met)</text><text transform="translate(752,1395) rotate(-90)">P12 (LN met)</text></g>
<g stroke="#000" stroke-width="0.8"><line x1="34" y1="1315" x2="34" y2="1568"/><line x1="398" y1="1315" x2="398" y2="1568"/><line x1="758" y1="1315" x2="758" y2="1568"/></g>
<rect x="36" y="1315" width="167" height="166" fill="url(#pc)"/>
<ellipse cx="90" cy="1360" rx="35" ry="45" fill="url(#pr)" opacity="0.85"/>
<ellipse cx="80" cy="1440" rx="30" ry="30" fill="url(#pr)" opacity="0.6"/>
<path d="M150,1315 L203,1315 L203,1481 L170,1481 C160,1420 150,1380 150,1315Z" fill="#05191b" opacity="0.6"/>
<rect x="55" y="1328" width="59" height="45" fill="none" stroke="#fff" stroke-width="1.5"/>
<rect x="208" y="1315" width="167" height="166" fill="url(#pc)"/>
<ellipse cx="300" cy="1390" rx="50" ry="70" fill="url(#pr)"/>
<path d="M208,1315 L240,1315 C230,1380 250,1430 240,1481 L208,1481Z" fill="url(#py)" opacity="0.7"/>
<rect x="36" y="1486" width="85" height="83" fill="url(#pw)"/>
<rect x="121" y="1486" width="85" height="83" fill="url(#pr2)" opacity="0.9"/>
<rect x="206" y="1486" width="85" height="83" fill="url(#py2)" opacity="0.7"/>
<rect x="291" y="1486" width="84" height="83" fill="url(#pc2)"/>
<rect x="401" y="1315" width="169" height="166" fill="url(#pr)"/>
<path d="M401,1315 L570,1315 L570,1360 C530,1345 480,1360 401,1390Z" fill="url(#pc)"/>
<path d="M470,1340 C500,1345 540,1360 570,1400 L570,1415 C540,1380 500,1365 460,1360Z" fill="url(#py)"/>
<rect x="440" y="1400" width="62" height="70" fill="none" stroke="#fff" stroke-width="1.5"/>
<rect x="574" y="1315" width="167" height="166" fill="url(#pr)"/>
<path d="M690,1315 L741,1315 L741,1380 C720,1360 700,1340 690,1315Z" fill="url(#py)"/>
<path d="M590,1430 C620,1400 650,1420 660,1481 L600,1481Z" fill="url(#pc)"/>
<rect x="401" y="1486" width="85" height="83" fill="url(#pw)" opacity="0.7"/>
<rect x="486" y="1486" width="85" height="83" fill="url(#pr2)"/>
<rect x="571" y="1486" width="85" height="83" fill="#000"/>
<rect x="610" y="1486" width="46" height="30" fill="url(#py2)"/>
<rect x="656" y="1486" width="85" height="83" fill="#000"/>
<path d="M665,1530 L700,1520 L710,1569 L680,1569Z" fill="url(#pc2)"/>
<rect x="761" y="1315" width="168" height="166" fill="url(#pr2)" opacity="0.8"/>
<rect x="761" y="1315" width="168" height="166" fill="#7a1010" opacity="0.35"/>
<path d="M775,1315 L800,1315 C810,1380 830,1420 860,1481 L800,1481 C790,1420 780,1380 775,1315Z" fill="url(#pc)"/>
<path d="M880,1315 L929,1315 L929,1340 C905,1335 890,1330 880,1315Z" fill="url(#py)"/>
<rect x="779" y="1358" width="34" height="48" fill="none" stroke="#fff" stroke-width="1.5"/>
<rect x="933" y="1315" width="161" height="166" fill="url(#pr2)"/>
<path d="M965,1315 L1040,1315 L1070,1481 L995,1481Z" fill="url(#pc)"/>
<path d="M990,1340 L1020,1340 L1050,1481 L1010,1481Z" fill="url(#py)" opacity="0.6"/>
<rect x="761" y="1486" width="85" height="83" fill="#000"/>
<path d="M761,1486 L800,1486 L846,1569 L780,1569Z" fill="url(#pw)"/>
<path d="M775,1486 L810,1486 L846,1569 L800,1569Z" fill="#cfcfcf" opacity="0.55"/>
<rect x="846" y="1486" width="85" height="83" fill="#000"/>
<path d="M846,1486 L870,1486 L900,1569 L846,1569Z" fill="url(#pr2)"/>
<path d="M900,1486 L931,1486 L931,1569 L915,1569Z" fill="url(#pr2)"/>
<rect x="931" y="1486" width="85" height="83" fill="#000"/>
<path d="M945,1486 L975,1486 L1005,1569 L970,1569Z" fill="url(#py2)"/>
<rect x="1016" y="1486" width="78" height="83" fill="#000"/>
<path d="M1025,1486 L1055,1486 L1085,1569 L1050,1569Z" fill="url(#pc2)"/>
<g fill="#fff" font-size="9" stroke-width="0.8">
<path d="M45,1470H100" stroke="#bbb"/><text x="101" y="1473">500µm</text>
<path d="M215,1470H235" stroke="#bbb"/><text x="236" y="1473">100µm</text>
<path d="M410,1470H480" stroke="#bbb"/><text x="481" y="1473">500µm</text>
<path d="M583,1470H622" stroke="#bbb"/><text x="623" y="1473">100µm</text>
<path d="M770,1470H820" stroke="#bbb"/><text x="822" y="1473">1mm</text>
<path d="M942,1470H957" stroke="#bbb"/><text x="959" y="1473">100µm</text>
</g>
</svg>
</body></html>
